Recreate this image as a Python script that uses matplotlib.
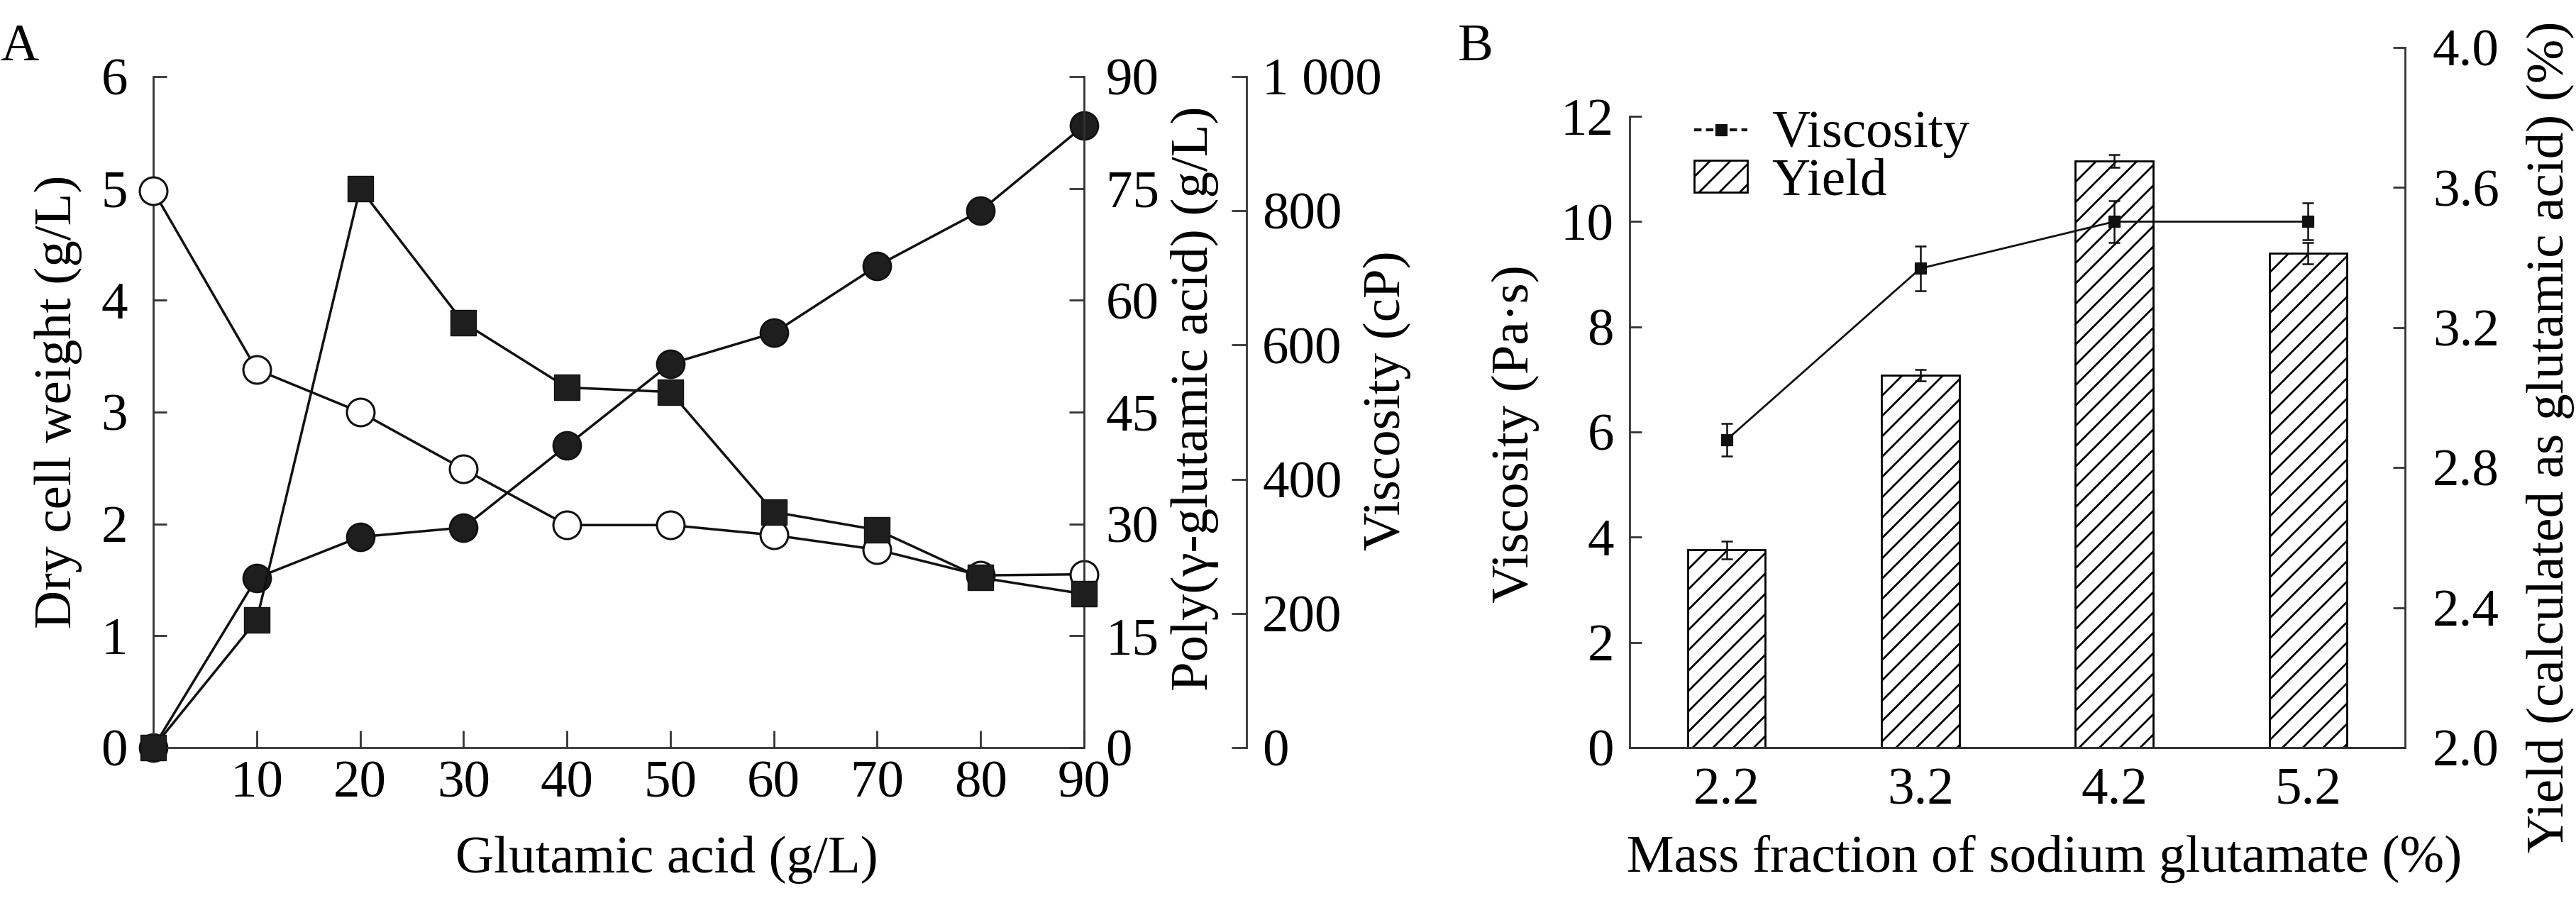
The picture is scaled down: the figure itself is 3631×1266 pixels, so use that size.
import matplotlib

matplotlib.use("Agg")
import matplotlib.pyplot as plt
import numpy as np
from matplotlib.lines import Line2D
from matplotlib.patches import Patch
from matplotlib.ticker import FixedLocator, FormatStrFormatter

# panel A: glutamic acid series
glutamic = [0, 10, 20, 30, 40, 50, 60, 70, 80, 90]
dry_cell = [4.98, 3.38, 3.0, 2.49, 1.99, 1.99, 1.90, 1.77, 1.54, 1.55]
poly_pga = [0, 17.1, 75, 57, 48.3, 47.7, 31.6, 29.2, 22.8, 20.6]
visc_cp = [0, 253, 314, 328, 450, 572, 618, 718, 800, 927]

# panel B: sodium glutamate series
fractions = ["2.2", "3.2", "4.2", "5.2"]
visc_pas = [5.85, 9.11, 10.0, 10.0]
visc_err = [0.31, 0.42, 0.40, 0.35]
yield_pct = [2.565, 3.064, 3.676, 3.412]
yield_err = [0.025, 0.016, 0.018, 0.03]

dry_ticks = [0, 1, 2, 3, 4, 5, 6]
poly_ticks = [0, 15, 30, 45, 60, 75, 90]
visc_ticks = [0, 200, 400, 600, 800, 1000]
visc_labels = ["0", "200", "400", "600", "800", "1 000"]
pas_ticks = [0, 2, 4, 6, 8, 10, 12]
yield_ticks = [2.0, 2.4, 2.8, 3.2, 3.6, 4.0]

# dpi chosen so the "/" hatch gets the reference line spacing; sizes below
# are written for a 100 dpi canvas and scaled by K
DPI = 86
K = 100 / DPI

plt.rcParams["font.family"] = ["Liberation Serif", "DejaVu Serif"]
plt.rcParams["font.size"] = 54 * K
plt.rcParams["hatch.linewidth"] = 2.0 * K

INK = "#111111"
AXC = "#333333"

fig = plt.figure(figsize=(3631 / DPI, 1266 / DPI), dpi=DPI)


def style_axis(axis, side, pad, length=15):
    axis.tick_params(axis="y", direction="in", length=length * K, width=2 * K, color=AXC,
                     pad=pad * K, left=(side == "left"), right=(side == "right"),
                     labelleft=(side == "left"), labelright=(side == "right"))


# ---- panel A ----
ax_a = fig.add_axes([0.05949, 0.16746, 0.36133, 0.74724])
ax_p = ax_a.twinx()
ax_v = ax_a.twinx()
ax_v.spines["right"].set_position(("axes", 1.1745))

for axis in (ax_a, ax_p, ax_v):
    axis.spines["top"].set_visible(False)
    axis.patch.set_visible(False)
    for sp in axis.spines.values():
        sp.set_linewidth(2 * K)
        sp.set_color(AXC)
ax_p.spines["left"].set_visible(False)
ax_v.spines["left"].set_visible(False)
ax_p.spines["bottom"].set_visible(False)
ax_v.spines["bottom"].set_visible(False)
ax_a.spines["right"].set_visible(False)

ax_a.set_xlim(0, 90)
ax_a.set_ylim(0, 6)
ax_p.set_ylim(0, 90)
ax_v.set_ylim(0, 1000)

ax_a.xaxis.set_major_locator(FixedLocator(glutamic[1:]))
ax_a.tick_params(axis="x", direction="in", length=17 * K, width=2 * K, color=AXC, pad=13 * K)
ax_a.yaxis.set_major_locator(FixedLocator(dry_ticks))
style_axis(ax_a, "left", 26, 14)
ax_p.yaxis.set_major_locator(FixedLocator(poly_ticks))
style_axis(ax_p, "right", 22)
ax_v.yaxis.set_major_locator(FixedLocator(visc_ticks))
ax_v.set_yticklabels(visc_labels)
style_axis(ax_v, "right", 16)

ax_v.plot(glutamic, visc_cp, color=INK, lw=2.5 * K, marker="o", ms=28 * K, mfc="#1e1e1e",
          mec=INK, mew=2 * K, clip_on=False, zorder=3)
ax_a.plot(glutamic, dry_cell, color=INK, lw=2.5 * K, marker="o", ms=28 * K, mfc="white",
          mec=INK, mew=2.2 * K, clip_on=False, zorder=4)
ax_p.plot(glutamic, poly_pga, color=INK, lw=2.5 * K, marker="s", ms=26 * K, mfc="#1e1e1e",
          mec=INK, mew=1 * K, clip_on=False, zorder=5)
ax_a.set_zorder(2)
ax_p.set_zorder(3)
ax_v.set_zorder(1)

ax_a.set_xlabel("Glutamic acid (g/L)")
ax_a.xaxis.set_label_coords(0.552, -0.131)
ax_a.set_ylabel("Dry cell weight (g/L)")
ax_a.yaxis.set_label_coords(-0.076, 0.515)
ax_p.set_ylabel("Poly(\u03b3-glutamic acid) (g/L)")
ax_p.yaxis.set_label_coords(1.093, 0.52)
ax_v.set_ylabel("Viscosity (cP)")
ax_v.yaxis.set_label_coords(1.300, 0.517)

fig.text(0.0, 0.9329, "A", ha="left", va="baseline")

# ---- panel B ----
ax_b = fig.add_axes([0.63261, 0.16746, 0.30102, 0.77962])
ax_y = ax_b.twinx()
pos = np.arange(len(fractions))

for axis in (ax_b, ax_y):
    axis.spines["top"].set_visible(False)
    for sp in axis.spines.values():
        sp.set_linewidth(2 * K)
        sp.set_color(AXC)
ax_b.spines["right"].set_visible(False)
ax_y.spines["left"].set_visible(False)
ax_b.spines["left"].set_bounds(0, 12)

ax_y.bar(pos, yield_pct, width=0.4, color="white", edgecolor="black", linewidth=2 * K,
         hatch="/", zorder=2)
ax_y.errorbar(pos, yield_pct, yerr=yield_err, fmt="none", ecolor=INK, elinewidth=1.8 * K,
              capsize=6 * K, capthick=1.8 * K, zorder=3)
ax_b.errorbar(pos, visc_pas, yerr=visc_err, fmt="-s", color=INK, lw=2 * K, ms=11 * K,
              elinewidth=1.8 * K, capsize=6 * K, capthick=1.8 * K, zorder=4)
ax_b.set_zorder(ax_y.get_zorder() + 1)
ax_b.patch.set_visible(False)

ax_b.set_xlim(-0.5, 3.5)
ax_b.set_ylim(0, 13.31)
ax_y.set_ylim(2.0, 4.0)
ax_b.set_xticks(pos, fractions)
ax_b.tick_params(axis="x", length=0, pad=20 * K)
ax_b.yaxis.set_major_locator(FixedLocator(pas_ticks))
style_axis(ax_b, "left", 16, 12)
ax_y.yaxis.set_major_locator(FixedLocator(yield_ticks))
ax_y.yaxis.set_major_formatter(FormatStrFormatter("%.1f"))
style_axis(ax_y, "right", 28, 12)

ax_b.set_xlabel("Mass fraction of sodium glutamate (%)")
ax_b.xaxis.set_label_coords(0.535, -0.125)
ax_b.set_ylabel("Viscosity (Pa\u00b7s)")
ax_b.yaxis.set_label_coords(-0.116, 0.448)
ax_y.set_ylabel("Yield (calculated as glutamic acid) (%)")
ax_y.yaxis.set_label_coords(1.156, 0.444)

handles = [
    Line2D([], [], color=INK, lw=3 * K, ls=(0, (2.5, 1.5)), marker="s", ms=12 * K),
    Patch(facecolor="white", edgecolor="black", linewidth=2 * K, hatch="/"),
]
ax_b.legend(handles, ["Viscosity", "Yield"], loc="upper left",
            bbox_to_anchor=(0.6577, 0.8768), bbox_transform=fig.transFigure,
            frameon=False, borderpad=0, borderaxespad=0, handlelength=1.0,
            handleheight=0.55, handletextpad=0.45, labelspacing=0.0)

fig.text(0.566, 0.9329, "B", ha="left", va="baseline")

fig.savefig("out.png", dpi=DPI)
